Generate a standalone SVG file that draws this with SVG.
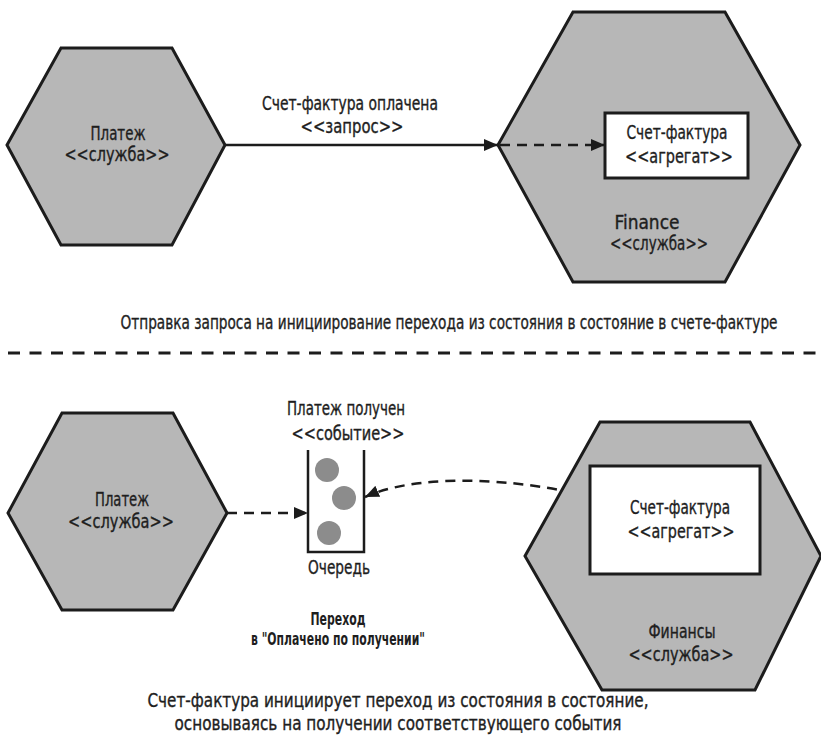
<svg xmlns="http://www.w3.org/2000/svg" width="821" height="745" viewBox="0 0 821 745">
  <defs>
    <style>
      .hex { fill: #b7b7b7; stroke: #1c1c1c; stroke-width: 3; stroke-linejoin: miter; }
      .box { fill: #ffffff; stroke: #1c1c1c; stroke-width: 3; }
      .queue { fill: #ffffff; stroke: #1c1c1c; stroke-width: 2.5; }
      .dot { fill: #8c8c8c; }
      .lbl { font-family: "Liberation Sans Narrow", "DejaVu Sans Condensed", "Liberation Sans", sans-serif; font-size: 19px; fill: #1e1e1e; stroke: #1e1e1e; stroke-width: 0.35; text-anchor: middle; }
      .note { font-family: "Liberation Sans Narrow", "DejaVu Sans Condensed", "Liberation Sans", sans-serif; font-size: 18px; font-weight: bold; fill: #1e1e1e; text-anchor: middle; }
      .solid { fill: none; stroke: #1c1c1c; stroke-width: 2.5; }
      .dash { fill: none; stroke: #1c1c1c; stroke-width: 2.5; stroke-dasharray: 10 7; }
      .sep { fill: none; stroke: #1c1c1c; stroke-width: 3; stroke-dasharray: 12 9.5; }
    </style>
    <marker id="arrow" viewBox="0 0 14 12" refX="14" refY="6" markerWidth="14" markerHeight="12" markerUnits="userSpaceOnUse" orient="auto">
      <path d="M0,0 L14,6 L0,12 Z" fill="#1c1c1c"/>
    </marker>
  </defs>

  <rect width="821" height="745" fill="#ffffff"/>

  <!-- Upper scenario: request sent to the invoice -->
  <g id="payment-service-top">
    <polygon class="hex" points="7,145 61,48 172,48 225,145 172,245 61,245"/>
    <text class="lbl" x="118" y="140" textLength="55" lengthAdjust="spacingAndGlyphs">Платеж</text>
    <text class="lbl" x="117" y="161" textLength="105" lengthAdjust="spacingAndGlyphs">&lt;&lt;служба&gt;&gt;</text>
  </g>

  <g id="finance-service-top">
    <polygon class="hex" points="498,145 573,12 725,12 800,145 725,282 573,282"/>
    <text class="lbl" x="647" y="229" textLength="65" lengthAdjust="spacingAndGlyphs">Finance</text>
    <text class="lbl" x="659" y="250" textLength="98" lengthAdjust="spacingAndGlyphs">&lt;&lt;служба&gt;&gt;</text>
  </g>

  <g id="invoice-aggregate-top">
    <rect class="box" x="605" y="113" width="143" height="65"/>
    <text class="lbl" x="677" y="139" textLength="101" lengthAdjust="spacingAndGlyphs">Счет-фактура</text>
    <text class="lbl" x="679" y="163" textLength="108" lengthAdjust="spacingAndGlyphs">&lt;&lt;агрегат&gt;&gt;</text>
  </g>

  <g id="connectors">
    <path class="solid" d="M225,145 L498,145" marker-end="url(#arrow)"/>
    <path class="dash" d="M500,145 L605,145" marker-end="url(#arrow)"/>
    <path class="dash" d="M227,513 L308,513" marker-end="url(#arrow)"/>
    <path class="dash" d="M590,497 C545,484 430,468 365,497" marker-end="url(#arrow)"/>
  </g>

  <g id="request-label">
    <text class="lbl" x="350" y="110" textLength="176" lengthAdjust="spacingAndGlyphs">Счет-фактура оплачена</text>
    <text class="lbl" x="352" y="133" textLength="103" lengthAdjust="spacingAndGlyphs">&lt;&lt;запрос&gt;&gt;</text>
  </g>

  <text class="lbl" x="449" y="329" textLength="657" lengthAdjust="spacingAndGlyphs">Отправка запроса на инициирование перехода из состояния в состояние в счете-фактуре</text>

  <!-- Divider between the two scenarios -->
  <path class="sep" d="M8,353 L821,353"/>

  <!-- Lower scenario: invoice reacts to an event -->
  <g id="payment-service-bottom">
    <polygon class="hex" points="8,513 62,413 173,413 227,513 173,610 62,610"/>
    <text class="lbl" x="122" y="506" textLength="54" lengthAdjust="spacingAndGlyphs">Платеж</text>
    <text class="lbl" x="121" y="528" textLength="106" lengthAdjust="spacingAndGlyphs">&lt;&lt;служба&gt;&gt;</text>
  </g>

  <g id="event-queue">
    <text class="lbl" x="346" y="415" textLength="118" lengthAdjust="spacingAndGlyphs">Платеж получен</text>
    <text class="lbl" x="348" y="440" textLength="113" lengthAdjust="spacingAndGlyphs">&lt;&lt;событие&gt;&gt;</text>
    <path class="queue" d="M308,450 L308,552 L364,552 L364,450"/>
    <circle class="dot" cx="327" cy="470" r="12"/>
    <circle class="dot" cx="344" cy="498" r="12"/>
    <circle class="dot" cx="329" cy="533" r="12"/>
    <text class="lbl" x="339" y="574" textLength="62" lengthAdjust="spacingAndGlyphs">Очередь</text>
  </g>

  <g id="finance-service-bottom">
    <polygon class="hex" points="525,556 600,422 750,422 821,556 755,690 602,690"/>
    <text class="lbl" x="682" y="638" textLength="67" lengthAdjust="spacingAndGlyphs">Финансы</text>
    <text class="lbl" x="681" y="661" textLength="105" lengthAdjust="spacingAndGlyphs">&lt;&lt;служба&gt;&gt;</text>
  </g>

  <g id="invoice-aggregate-bottom">
    <rect class="box" x="590" y="466" width="170" height="108"/>
    <text class="lbl" x="680" y="514" textLength="100" lengthAdjust="spacingAndGlyphs">Счет-фактура</text>
    <text class="lbl" x="681" y="538" textLength="107" lengthAdjust="spacingAndGlyphs">&lt;&lt;агрегат&gt;&gt;</text>
  </g>

  <g id="transition-note">
    <text class="note" x="338" y="625" textLength="55" lengthAdjust="spacingAndGlyphs">Переход</text>
    <text class="note" x="338" y="645" textLength="174" lengthAdjust="spacingAndGlyphs">в "Оплачено по получении"</text>
  </g>

  <text class="lbl" x="398" y="707" textLength="501" lengthAdjust="spacingAndGlyphs">Счет-фактура инициирует переход из состояния в состояние,</text>
  <text class="lbl" x="398" y="730" textLength="447" lengthAdjust="spacingAndGlyphs">основываясь на получении соответствующего события</text>
</svg>
